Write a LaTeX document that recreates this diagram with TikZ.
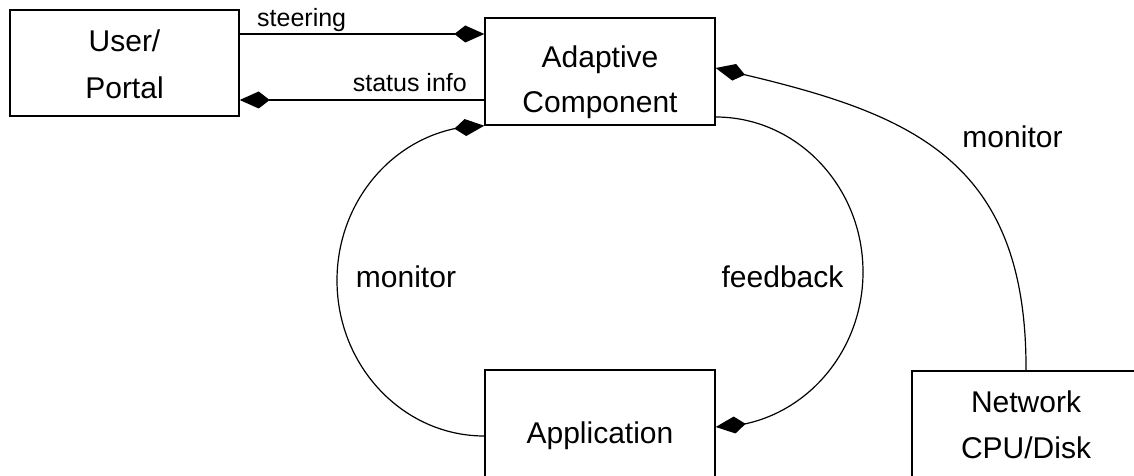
\documentclass[tikz,border=0pt]{standalone}
\usepackage{fontspec}
\setmainfont{Liberation Sans}
\usetikzlibrary{arrows.meta,bending}
\begin{document}
\begin{tikzpicture}[x=1pt,y=-1pt,
  box/.style={draw,line width=1.4pt,inner sep=0pt},
  big/.style={inner sep=0pt,anchor=base,font=\fontsize{30}{36}\selectfont},
  small/.style={inner sep=0pt,font=\fontsize{25}{30}\selectfont},
  conn/.style={line width=1.2pt,-{Kite[length=30pt,width=17pt,inset=11pt]}}]
\useasboundingbox (0,0) rectangle (1134,476);
% boxes
\node[box,minimum width=229pt,minimum height=106pt] (user) at (124.5,63) {};
\node[box,minimum width=230pt,minimum height=107pt] (adapt) at (600,71.5) {};
\node[box,minimum width=230pt,minimum height=120pt] (app) at (600,430) {};
\node[box,minimum width=228pt,minimum height=120pt] (net) at (1026,431) {};
% box texts
\node[big] (t1) at (124.5,52) {User/};
\node[big] (t2) at (124.5,99) {Portal};
\node[big] (t3) at (600,68) {Adaptive};
\node[big] (t4) at (600,113) {Component};
\node[big] (t5) at (600,443) {Application};
\node[big] (t6) at (1026,412) {Network};
\node[big] (t7) at (1026,458) {CPU/Disk};
% labels
\node[big] (l1) at (406,287) {monitor};
\node[big] (l2) at (782.5,287) {feedback};
\node[big] (l3) at (1012.5,147) {monitor};
\node[small,anchor=base west] (l4) at (257,27) {steering};
\node[small,anchor=base east] (l5) at (467,92) {status info};
% connectors
\draw[conn] (user.east |- 0,34) -- (adapt.west |- 0,34);
\draw[conn] (adapt.west |- 0,100) -- (user.east |- 0,100);
\draw[conn] (app.west |- 0,436) .. controls (403.3,436) and (337,366.4) .. (337,280.5)
  .. controls (337,194.6) and (403.3,125) .. (adapt.south west);
\draw[conn] (adapt.east |- 0,117) .. controls (796.7,117) and (863,186.4) .. (863,272)
  .. controls (863,357.6) and (796.7,427) .. (app.east |- 0,427);
\draw[conn] (net.north) .. controls (1027,150) and (900,110) .. (adapt.east |- 0,68);
\end{tikzpicture}
\end{document}
